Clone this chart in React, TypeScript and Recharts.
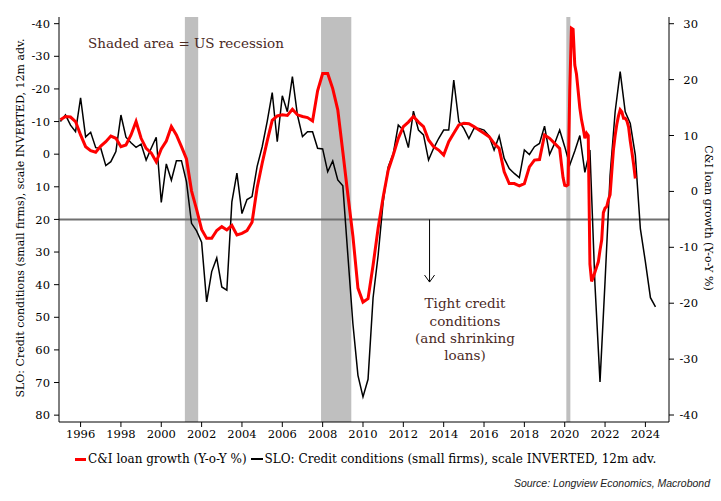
import React from 'react';
import {
  LineChart,
  Line,
  XAxis,
  YAxis,
  ReferenceArea,
  ReferenceLine,
} from 'recharts';

// SLO small firms, quarterly from 1995Q1, plotted 12m advanced (left axis, inverted)
const sloValues = [
  -10.0, -12.0, -8.9, -6.9,
  -17.3, -5.3, -6.7, -2.0,
  -1.8, 3.5, 2.3, -0.8,
  -12.0, -5.2, -3.5, -2.1,
  -3.1, 1.8, -1.8, -5.2,
  14.8, 3.0, 8.0, 2.0,
  2.0, 8.5, 21.2, 23.5,
  27.0, 45.3, 36.0, 31.8,
  40.7, 41.7, 14.6, 5.8,
  18.2, 13.9, 13.0, 3.8,
  -2.2, -10.0, -18.9, -3.8,
  -17.9, -13.0, -23.8, -12.0,
  -5.4, -6.9, -6.9, -1.8,
  -1.6, 5.4, 2.1, 7.9,
  9.7, 31.0, 52.0, 67.8,
  74.4, 69.0, 44.0, 31.0,
  14.6, 3.9, -0.2, -8.9,
  -7.4, -2.0, -13.2, -7.4,
  -5.9, 1.8, -1.8, -4.8,
  -7.4, -7.4, -22.7, -10.0,
  -7.9, -4.8, -7.9, -7.9,
  -7.4, -5.6, -1.3, -5.6,
  1.3, 4.4, 5.9, 7.2,
  -1.3, 0.1, -2.3, -3.3,
  -8.6, 0.1, -3.3, -7.4,
  -2.3, 3.3, -1.0, -5.7,
  5.6, -1.3, 40.0, 69.8,
  39.0, 6.4, -13.0, -25.3,
  -13.0, -9.4, 0.3, 22.8,
  33.0, 44.0, 46.8,
];

// C&I loan growth Y-o-Y %, read quarterly 1995Q1 - 2019Q4 (right axis)
const loanQuarterly = [
  12.8, 13.4, 13.3, 12.5,
  10.1, 8.0, 7.3, 7.0,
  8.1, 8.9, 9.9, 9.5,
  8.0, 8.3, 10.1, 12.5,
  9.5, 7.7, 6.9, 5.3,
  7.6, 9.0, 11.6, 10.1,
  8.0, 5.8, 0.1, -3.2,
  -6.8, -8.4, -8.4, -7.0,
  -6.3, -6.9, -6.1, -7.8,
  -7.5, -7.0, -5.5, 0.6,
  5.0, 9.0, 12.7, 13.5,
  13.7, 13.6, 14.7, 13.7,
  13.4, 13.2, 12.6, 18.0,
  21.1, 21.1, 18.4, 14.6,
  7.1, -0.6, -8.0, -17.3,
  -19.8, -19.2, -13.2, -6.6,
  -1.0, 3.8, 6.5, 9.5,
  11.6, 12.4, 13.4, 12.4,
  11.6, 9.2, 8.0, 7.4,
  6.5, 8.9, 10.4, 11.9,
  12.2, 12.1, 11.6, 11.0,
  10.4, 9.8, 8.6, 7.7,
  3.5, 1.4, 1.4, 1.0,
  1.4, 4.4, 5.6, 5.7,
  10.1, 9.5, 8.6, 7.7,
];

// monthly from Nov 2019 to Jul 2023
const loanMonthly = [
  5.0, 2.5,
  1.1, 1.0, 1.2, 18.0, 29.2, 29.0, 22.6, 21.0, 18.0, 14.9, 12.8, 11.3,
  9.5, 10.4, 10.0, -13.0, -16.1, -15.3, -14.4, -13.5, -12.6, -10.5, -8.7, -3.8,
  -3.0, -2.7, -1.5, -0.6, 3.5, 7.5, 10.0, 12.0, 13.5, 14.6, 14.2, 13.1,
  13.1, 12.6, 11.5, 9.0, 7.0, 4.8, 2.3,
];

const recessions = [
  { from: 2001.17, to: 2001.83 },
  { from: 2007.92, to: 2009.42 },
  { from: 2020.08, to: 2020.28 },
];

const yearTicks = [1996, 1998, 2000, 2002, 2004, 2006, 2008, 2010, 2012, 2014, 2016, 2018, 2020, 2022, 2024];
const leftTicks = [-40, -30, -20, -10, 0, 10, 20, 30, 40, 50, 60, 70, 80];
const rightTicks = [-40, -30, -20, -10, 0, 10, 20, 30];

const sloData = sloValues.map((v, i) => ({ t: 1995 + i * 0.25, v }));
const loanData = [
  ...loanQuarterly.map((v, i) => ({ t: 1995 + i * 0.25, v })),
  ...loanMonthly.map((v, i) => ({ t: 2019 + 10 / 12 + i / 12, v })),
];

const serif = '"DejaVu Serif", Georgia, serif';
const xDomain = [1994.93, 2025.17];

const RightTick = (p: any) => (
  <text x={p.x + 22} y={p.y} dy={4} textAnchor="end" fontSize={11.5} fontFamily={serif} fill="#000">
    {p.payload.value}
  </text>
);

const Arrow = (p: any) => (
  <g>
    <line x1={p.x1} y1={p.y1} x2={p.x2} y2={p.y2} stroke="#000" strokeWidth={1} />
    <polyline
      points={`${p.x2 - 5},${p.y2 - 7} ${p.x2},${p.y2} ${p.x2 + 5},${p.y2 - 7}`}
      fill="none"
      stroke="#000"
      strokeWidth={1}
    />
  </g>
);

export default function App() {
  return (
    <div style={{ position: 'absolute', left: 0, top: 0, width: 721, height: 501, background: '#fff' }}>
      <LineChart width={721} height={501} margin={{ top: 17, right: 0, bottom: 54, left: 0 }}>
        <XAxis
          xAxisId="b"
          dataKey="t"
          type="number"
          domain={xDomain}
          ticks={yearTicks}
          interval={0}
          allowDataOverflow
          height={25}
          tickSize={5}
          tickMargin={3}
          stroke="#000"
          tick={{ fontSize: 11.5, fill: '#000', fontFamily: serif }}
        />
        <XAxis
          xAxisId="top"
          orientation="top"
          type="number"
          domain={xDomain}
          allowDataOverflow
          height={0}
          tick={false}
          tickLine={false}
          stroke="#000"
        />
        <YAxis
          yAxisId="left"
          reversed
          domain={[-42.05, 82.1]}
          ticks={leftTicks}
          interval={0}
          allowDataOverflow
          width={59}
          tickSize={5}
          tickMargin={4}
          stroke="#000"
          tick={{ fontSize: 11.5, fill: '#000', fontFamily: serif }}
        />
        <YAxis
          yAxisId="right"
          orientation="right"
          domain={[-41.25, 31.2]}
          ticks={rightTicks}
          interval={0}
          allowDataOverflow
          width={52}
          tickSize={5}
          tickMargin={2}
          stroke="#000"
          tick={RightTick}
        />
        {recessions.map((r) => (
          <ReferenceArea
            key={r.from}
            xAxisId="b"
            yAxisId="left"
            x1={r.from}
            x2={r.to}
            fill="#bfbfbf"
            fillOpacity={1}
            stroke="none"
          />
        ))}
        <ReferenceLine xAxisId="b" yAxisId="left" y={20} stroke="#707070" strokeWidth={2} />
        <ReferenceLine
          xAxisId="b"
          yAxisId="left"
          segment={[{ x: 2013.3, y: 20 }, { x: 2013.3, y: 39.2 }]}
          shape={Arrow}
        />
        <Line
          xAxisId="b"
          yAxisId="left"
          data={sloData}
          dataKey="v"
          type="linear"
          stroke="#000"
          strokeWidth={1.5}
          dot={false}
          activeDot={false}
          isAnimationActive={false}
        />
        <Line
          xAxisId="b"
          yAxisId="right"
          data={loanData}
          dataKey="v"
          type="linear"
          stroke="#ff0000"
          strokeWidth={3}
          dot={false}
          activeDot={false}
          isAnimationActive={false}
        />
      </LineChart>

      <svg width={721} height={501} style={{ position: 'absolute', left: 0, top: 0, pointerEvents: 'none' }}>
        <text transform="translate(20,218) rotate(-90)" textAnchor="middle" dominantBaseline="central" fontSize={11} fontFamily={serif} fill="#000">
          SLO: Credit conditions (small firms), scale INVERTED, 12m adv.
        </text>
        <text transform="translate(708,218) rotate(90)" textAnchor="middle" dominantBaseline="central" fontSize={11} fontFamily={serif} fill="#000">
          C&amp;I loan growth (Y-o-Y %)
        </text>
        <text x={88} y={48} fontSize={13.5} fontFamily={serif} fill="#4b2a1f">
          Shaded area = US recession
        </text>
        <g fontSize={13.5} fontFamily={serif} fill="#4b2a1f" textAnchor="middle">
          <text x={465} y={308}>Tight credit</text>
          <text x={465} y={326}>conditions</text>
          <text x={465} y={343}>(and shrinking</text>
          <text x={465} y={360}>loans)</text>
        </g>
        <text x={710} y={487} textAnchor="end" fontSize={10.5} fontStyle="italic" fontFamily='"Liberation Sans", Arial, sans-serif' fill="#222">
          Source: Longview Economics, Macrobond
        </text>
      </svg>

      <div
        style={{
          position: 'absolute',
          left: 75,
          top: 452,
          display: 'flex',
          alignItems: 'center',
          fontFamily: serif,
          fontSize: 12,
          color: '#000',
          whiteSpace: 'nowrap',
        }}
      >
        <span style={{ display: 'inline-block', width: 11, height: 3, background: '#ff0000', marginRight: 2 }} />
        <span>C&amp;I loan growth (Y-o-Y %)</span>
        <span style={{ display: 'inline-block', width: 12, height: 2, background: '#000', margin: '0 2px 0 4px' }} />
        <span>SLO: Credit conditions (small firms), scale INVERTED, 12m adv.</span>
      </div>
    </div>
  );
}
